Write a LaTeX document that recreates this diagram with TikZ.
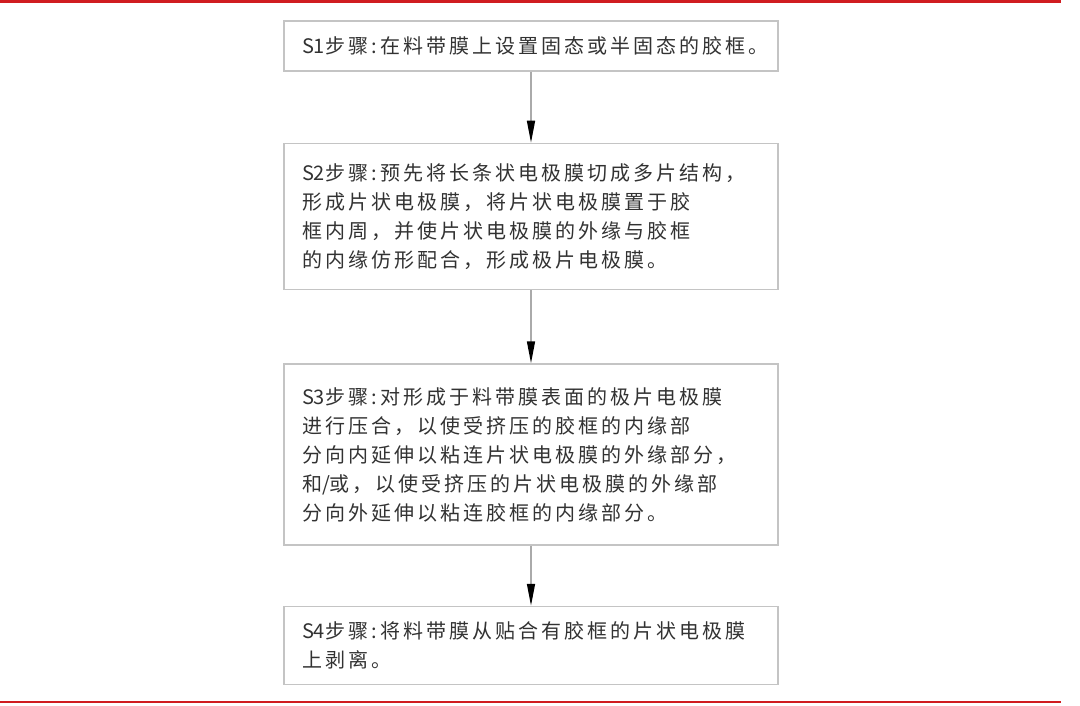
\documentclass[tikz,border=0pt]{standalone}
\usepackage{fontspec}
\newfontfamily\cjk[LetterSpace=15]{Noto Sans CJK SC}
\newfontfamily\cjktight{Noto Sans CJK SC}
\newcommand\stepno[1]{{\cjktight #1}}
\usepackage{xcolor}
\definecolor{rulered}{RGB}{208, 28, 32}
\definecolor{boxgray}{RGB}{196, 196, 196}
\definecolor{textgray}{RGB}{50, 50, 50}
\definecolor{linegray}{RGB}{170, 170, 170}
\usepackage{tikz}
\usetikzlibrary{
    arrows.meta,
    positioning
}

\begin{document}
\begin{tikzpicture}[
    x=1pt, y=-1pt,
    stepbox/.style={
        rectangle, draw=boxgray, line width=1.5pt, text width=458pt,
        inner xsep=18pt, inner ysep=0pt, align=left, text=textgray,
        font=\cjk\fontsize{20pt}{29pt}\selectfont
    },
    flow/.style={
        draw=linegray, line width=1.5pt,
        -{Triangle[length=22pt,width=8pt,black]}
    }
]
    \useasboundingbox (0,0) rectangle (1080,706);

    % Rules
    \draw[rulered,line width=2.5pt] (0,1.5) coordinate (tl) -- (1061,1.5) coordinate (tr);
    \draw[rulered,line width=2.5pt] (0,702) coordinate (bl) -- (1061,702) coordinate (br);

    % Steps
    \node[stepbox,minimum height=50pt] (s1) at (531,46) {\stepno{S1}步骤\,:\,在料带膜上设置固态或半固态的胶框。};
    \node[stepbox,minimum height=146pt,below=71pt of s1] (s2) {\stepno{S2}步骤\,:\,预先将长条状电极膜切成多片结构，\\形成片状电极膜，将片状电极膜置于胶\\框内周，并使片状电极膜的外缘与胶框\\的内缘仿形配合，形成极片电极膜。};
    \node[stepbox,minimum height=181pt,below=73pt of s2] (s3) {\stepno{S3}步骤\,:\,对形成于料带膜表面的极片电极膜\\进行压合，以使受挤压的胶框的内缘部\\分向内延伸以粘连片状电极膜的外缘部分，\\和\stepno{/}或，以使受挤压的片状电极膜的外缘部\\分向外延伸以粘连胶框的内缘部分。};
    \node[stepbox,minimum height=78pt,below=60pt of s3] (s4) {\stepno{S4}步骤\,:\,将料带膜从贴合有胶框的片状电极膜\\上剥离。};

    % Arrows
    \foreach \a/\b in {s1/s2,s2/s3,s3/s4} {
        \draw[flow] (\a) -- (\b);
    }
\end{tikzpicture}
\end{document}
